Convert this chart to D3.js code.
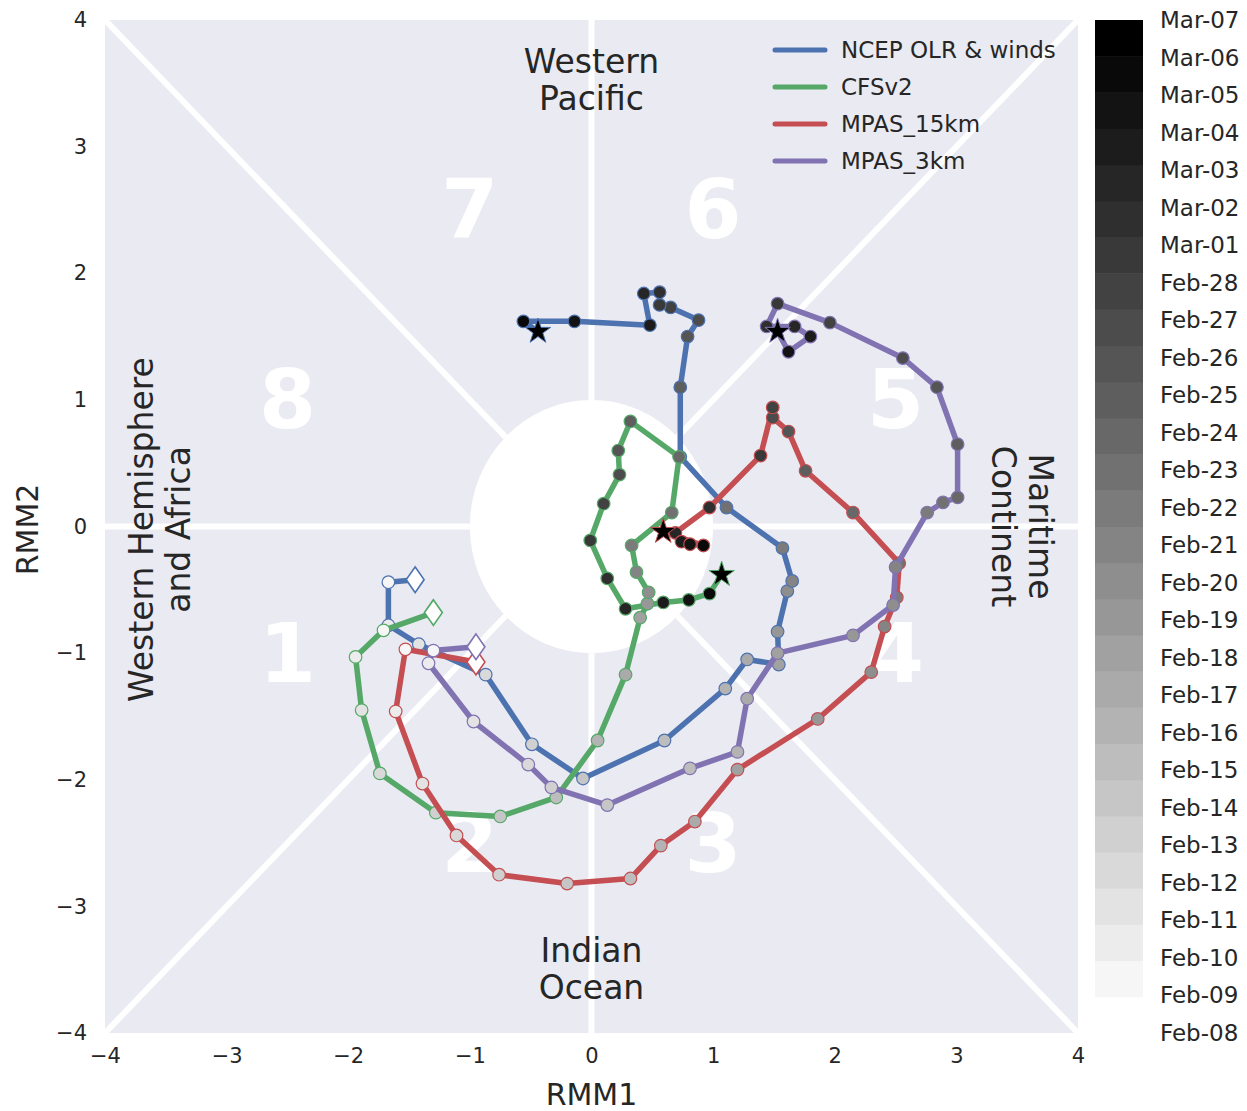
<!DOCTYPE html>
<html>
<head>
<meta charset="utf-8">
<script src="https://cdn.jsdelivr.net/npm/d3@7"></script>
<style>
  body { margin: 0; background: #fff; }
  text { font-family: "DejaVu Sans", sans-serif; fill: #262626; }
</style>
</head>
<body>
<div id="chart"></div>
<script>
// dates for the colour scale (one per day)
const dates = ["Feb-08","Feb-09","Feb-10","Feb-11","Feb-12","Feb-13","Feb-14","Feb-15","Feb-16",
  "Feb-17","Feb-18","Feb-19","Feb-20","Feb-21","Feb-22","Feb-23","Feb-24","Feb-25","Feb-26",
  "Feb-27","Feb-28","Mar-01","Mar-02","Mar-03","Mar-04","Mar-05","Mar-06","Mar-07"];

const seriesNames = ["NCEP OLR & winds", "CFSv2", "MPAS_15km", "MPAS_3km"];
const seriesColors = ["#4C72B0", "#55A868", "#C44E52", "#8172B2"];

// RMM1 / RMM2 tracks, first value is Feb-08
const ncepRmm1 = [-1.45,-1.67,-1.67,-1.42,-0.87,-0.49,-0.07,0.60,1.10,1.28,1.54,1.53,1.61,1.65,1.57,1.11,0.73,0.73,0.79,0.88,0.65,0.56,0.56,0.43,0.48,-0.14,-0.56];
const ncepRmm2 = [-0.42,-0.44,-0.78,-0.93,-1.17,-1.72,-1.99,-1.69,-1.28,-1.05,-1.09,-0.83,-0.51,-0.43,-0.17,0.15,0.55,1.10,1.50,1.63,1.73,1.75,1.85,1.84,1.59,1.62,1.62];
const cfsRmm1 = [-1.30,-1.71,-1.94,-1.89,-1.74,-1.28,-0.75,-0.29,0.05,0.28,0.40,0.46,0.47,0.37,0.33,0.66,0.72,0.32,0.22,0.23,0.10,-0.01,0.13,0.28,0.59,0.80,0.97];
const cfsRmm2 = [-0.68,-0.82,-1.03,-1.45,-1.95,-2.26,-2.29,-2.14,-1.69,-1.17,-0.72,-0.61,-0.52,-0.36,-0.15,0.11,0.55,0.83,0.60,0.41,0.18,-0.11,-0.41,-0.65,-0.60,-0.58,-0.53];
const mpas15Rmm1 = [-0.95,-1.53,-1.61,-1.39,-1.11,-0.76,-0.20,0.32,0.57,0.85,1.20,1.86,2.30,2.41,2.51,2.53,2.15,1.76,1.62,1.49,1.49,1.39,0.97,0.69,0.74,0.81,0.92];
const mpas15Rmm2 = [-1.07,-0.97,-1.46,-2.03,-2.44,-2.75,-2.82,-2.78,-2.52,-2.33,-1.92,-1.52,-1.15,-0.79,-0.56,-0.29,0.11,0.44,0.75,0.86,0.94,0.56,0.15,-0.05,-0.12,-0.14,-0.15];
const mpas3Rmm1 = [-0.95,-1.30,-1.34,-0.97,-0.52,-0.33,0.13,0.81,1.20,1.28,1.53,2.15,2.48,2.50,2.76,2.89,3.01,3.01,2.84,2.56,1.96,1.53,1.44,1.67,1.80,1.62];
const mpas3Rmm2 = [-0.95,-0.98,-1.08,-1.54,-1.88,-2.06,-2.20,-1.91,-1.78,-1.36,-1.00,-0.86,-0.62,-0.32,0.11,0.19,0.23,0.65,1.10,1.33,1.61,1.76,1.58,1.58,1.50,1.38];

// end-of-period positions (Mar-07), drawn as stars
const starRmm1 = [-0.44, 1.07, 0.59, 1.53];
const starRmm2 = [1.54, -0.38, -0.04, 1.54];

const xTicks = [-4,-3,-2,-1,0,1,2,3,4];
const yTicks = [-4,-3,-2,-1,0,1,2,3,4];

const phaseNums = ["1","2","3","4","5","6","7","8"];
const phaseX = [-2.5,-1,1,2.5,2.5,1,-1,-2.5];
const phaseY = [-1,-2.5,-2.5,-1,1,2.5,2.5,1];

const tracks = [
  [ncepRmm1, ncepRmm2],
  [cfsRmm1, cfsRmm2],
  [mpas15Rmm1, mpas15Rmm2],
  [mpas3Rmm1, mpas3Rmm2]
];

const W = 1247, H = 1111;
const plot = { left: 105, right: 1078, top: 20, bottom: 1033 };

const svg = d3.select("#chart").append("svg")
  .attr("width", W)
  .attr("height", H);

const x = d3.scaleLinear().domain([-4, 4]).range([plot.left, plot.right]);
const y = d3.scaleLinear().domain([-4, 4]).range([plot.bottom, plot.top]);
// linear white -> black
const grey = d3.scaleLinear().domain([0, 1]).range(["#ffffff", "#000000"]);
const dateColor = i => grey(i / (dates.length - 1));

svg.append("clipPath").attr("id", "clip")
  .append("rect")
  .attr("x", plot.left).attr("y", plot.top)
  .attr("width", plot.right - plot.left).attr("height", plot.bottom - plot.top);

svg.append("rect")
  .attr("x", plot.left).attr("y", plot.top)
  .attr("width", plot.right - plot.left).attr("height", plot.bottom - plot.top)
  .attr("fill", "#EAEAF2");

// phase dividers
const g0 = svg.append("g").attr("clip-path", "url(#clip)");
const r2 = Math.SQRT1_2;
const divs = [
  [[-4, 0], [-1, 0]], [[1, 0], [4, 0]],
  [[0, -4], [0, -1]], [[0, 1], [0, 4]],
  [[-4, -4], [-r2, -r2]], [[r2, r2], [4, 4]],
  [[-4, 4], [-r2, r2]], [[r2, -r2], [4, -4]]
];
g0.selectAll("line.div").data(divs).enter().append("line")
  .attr("x1", d => x(d[0][0])).attr("y1", d => y(d[0][1]))
  .attr("x2", d => x(d[1][0])).attr("y2", d => y(d[1][1]))
  .attr("stroke", "#fff").attr("stroke-width", 6);

g0.append("ellipse")
  .attr("cx", x(0)).attr("cy", y(0))
  .attr("rx", x(1) - x(0)).attr("ry", y(0) - y(1))
  .attr("fill", "#fff");

g0.selectAll("text.phase").data(phaseNums).enter().append("text")
  .attr("x", (d, i) => x(phaseX[i]))
  .attr("y", (d, i) => y(phaseY[i]))
  .attr("text-anchor", "middle")
  .attr("dominant-baseline", "central")
  .style("font-size", "82px")
  .style("font-weight", "bold")
  .style("fill", "#fff")
  .text(d => d);

// region labels
function multiLine(tx, ty, lines, rot) {
  const t = svg.append("text")
    .attr("transform", `translate(${tx},${ty}) rotate(${rot})`)
    .attr("text-anchor", "middle")
    .style("font-size", "33px");
  lines.forEach((s, i) => {
    t.append("tspan")
      .attr("x", 0)
      .attr("y", (i - (lines.length - 1) / 2) * 37)
      .attr("dy", "0.35em")
      .text(s);
  });
}
multiLine(x(0), 80, ["Western", "Pacific"], 0);
multiLine(x(0), 969, ["Indian", "Ocean"], 0);
multiLine(160, y(0) + 3, ["Western Hemisphere", "and Africa"], -90);
multiLine(1022, y(0), ["Maritime", "Continent"], 90);

// tracks
const line = d3.line().x(d => x(d[0])).y(d => y(d[1]));
tracks.forEach((tr, s) => {
  const pts = tr[0].map((v, i) => [v, tr[1][i]]);
  const full = pts.concat([[starRmm1[s], starRmm2[s]]]);
  const g = svg.append("g").attr("clip-path", "url(#clip)");
  g.append("path")
    .datum(full)
    .attr("d", line)
    .attr("fill", "none")
    .attr("stroke", seriesColors[s])
    .attr("stroke-width", 5.5)
    .attr("stroke-linejoin", "round");
  g.selectAll("circle").data(pts.slice(1)).enter().append("circle")
    .attr("cx", d => x(d[0]))
    .attr("cy", d => y(d[1]))
    .attr("r", 6.3)
    .attr("fill", (d, i) => dateColor(i + 1))
    .attr("stroke", seriesColors[s])
    .attr("stroke-width", 1.2);
  g.append("path")
    .attr("d", d3.symbol(d3.symbolDiamond, 210)())
    .attr("transform", `translate(${x(pts[0][0])},${y(pts[0][1])}) scale(1.15,0.95)`)
    .attr("fill", "#fff")
    .attr("stroke", seriesColors[s])
    .attr("stroke-width", 1.5);
  g.append("path")
    .attr("d", d3.symbol(d3.symbolStar, 200)())
    .attr("transform", `translate(${x(starRmm1[s])},${y(starRmm2[s])})`)
    .attr("fill", "#000")
    .attr("stroke", seriesColors[s])
    .attr("stroke-width", 1);
});

// axes
const xAxis = svg.append("g")
  .attr("transform", `translate(0,${plot.bottom})`)
  .call(d3.axisBottom(x).tickValues(xTicks).tickSize(0).tickPadding(15).tickFormat(d3.format("d")));
xAxis.select(".domain").remove();
xAxis.selectAll("text").style("font-size", "21px").style("fill", "#262626");

const yAxis = svg.append("g")
  .attr("transform", `translate(${plot.left},0)`)
  .call(d3.axisLeft(y).tickValues(yTicks).tickSize(0).tickPadding(18).tickFormat(d3.format("d")));
yAxis.select(".domain").remove();
yAxis.selectAll("text").style("font-size", "21px").style("fill", "#262626");

svg.append("text")
  .attr("x", x(0)).attr("y", 1094)
  .attr("text-anchor", "middle")
  .attr("dominant-baseline", "central")
  .style("font-size", "30px")
  .text("RMM1");

svg.append("text")
  .attr("transform", `translate(27,${y(0) + 3}) rotate(-90)`)
  .attr("text-anchor", "middle")
  .attr("dominant-baseline", "central")
  .style("font-size", "30px")
  .text("RMM2");

// legend
const legend = svg.selectAll(".legend").data(seriesNames).enter().append("g")
  .attr("class", "legend")
  .attr("transform", (d, i) => `translate(775,${50 + i * 37})`);
legend.append("line")
  .attr("x1", 0).attr("x2", 50)
  .attr("stroke", (d, i) => seriesColors[i])
  .attr("stroke-width", 5)
  .attr("stroke-linecap", "round");
legend.append("text")
  .attr("x", 66)
  .attr("dominant-baseline", "central")
  .style("font-size", "23px")
  .text(d => d);

// colorbar
const cb = { x: 1095, w: 48, top: 20, bottom: 1033 };
const segH = (cb.bottom - cb.top) / dates.length;
svg.selectAll("rect.cb").data(dates).enter().append("rect")
  .attr("class", "cb")
  .attr("x", cb.x)
  .attr("y", (d, i) => cb.bottom - (i + 1) * segH)
  .attr("width", cb.w)
  .attr("height", segH + 0.5)
  .attr("fill", (d, i) => dateColor(i));

const cbScale = d3.scalePoint().domain(dates).range([cb.bottom, cb.top]);
svg.selectAll("text.cbl").data(dates).enter().append("text")
  .attr("class", "cbl")
  .attr("x", 1160)
  .attr("y", d => cbScale(d))
  .attr("dominant-baseline", "central")
  .style("font-size", "23px")
  .text(d => d);
</script>
</body>
</html>
